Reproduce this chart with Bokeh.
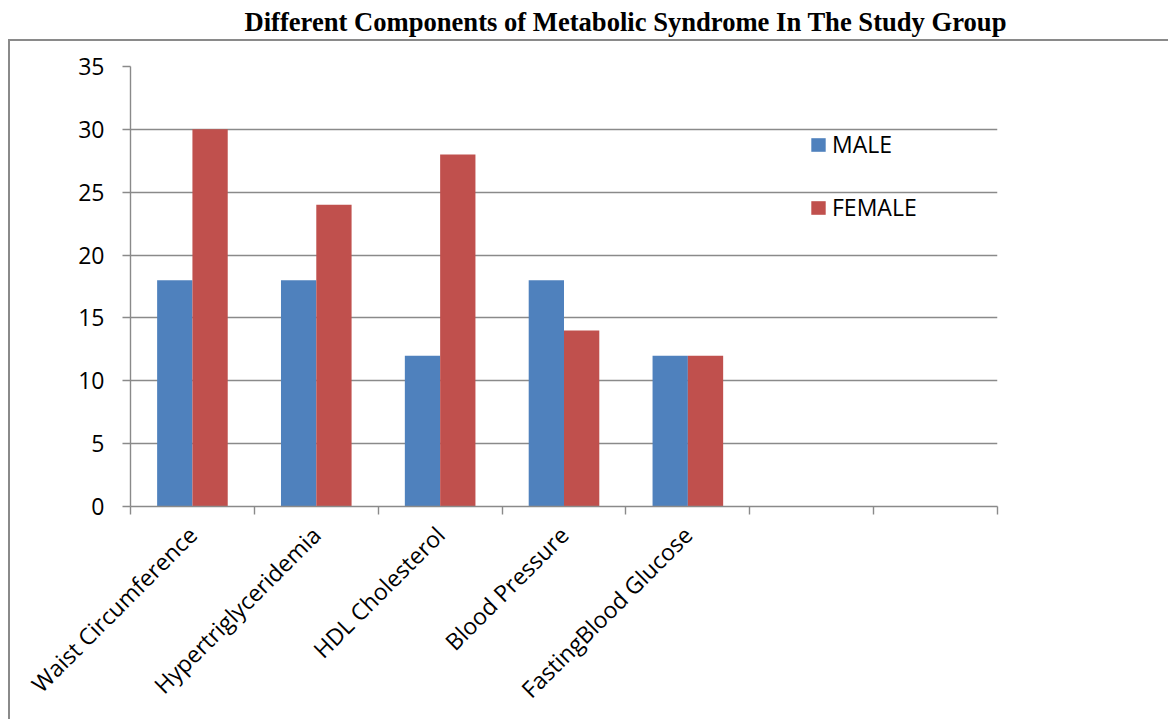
import math
from bokeh.plotting import figure
from bokeh.models import (Range1d, FixedTicker, Legend, LegendItem,
                          ColumnDataSource, Title)
from bokeh.transform import dodge
from bokeh.embed import file_html
from bokeh.resources import INLINE

# ---------------- data ----------------
title_text = "Different Components of Metabolic Syndrome In The Study Group"
categories = ["Waist Circumference", "Hypertriglyceridemia", "HDL Cholesterol",
              "Blood Pressure", "FastingBlood Glucose"]
male = [18, 18, 12, 18, 12]
female = [30, 24, 28, 14, 12]
series_names = ["MALE", "FEMALE"]
y_ticks = [0, 5, 10, 15, 20, 25, 30, 35]
n_slots = 7  # category slots on the axis (two are empty)

# ---------------- layout ----------------
W, H = 1168, 719
FL, FR, FT, FB = 130, 997, 66, 506
GRAY = "#8a8a8a"
SANS = "Open Sans"

p = figure(width=W, height=H, output_backend="svg", toolbar_location=None,
           x_range=Range1d(0, n_slots), y_range=Range1d(0, y_ticks[-1]),
           min_border_left=FL, min_border_right=W - FR,
           min_border_top=FT, min_border_bottom=H - FB)
p.outline_line_color = None
p.background_fill_color = None
p.border_fill_color = None
# outer chart border (top and left edges), drawn behind the transparent canvas
p.styles = {
    "background": (f"linear-gradient({GRAY},{GRAY}) 9px 39px / 100% 2px no-repeat, "
                   f"linear-gradient({GRAY},{GRAY}) 8px 39px / 2px 100% no-repeat, "
                   "#ffffff"),
}

# title
p.title.text = title_text
p.title.align = "left"
p.title.offset = 114
p.title.text_font = "Liberation Serif"
p.title.text_font_style = "bold"
p.title.text_font_size = "26.6px"
p.title.text_color = "black"
p.title.standoff = 0
# empty spacer between title and plot frame (pushes the title upward)
p.add_layout(Title(text=" ", text_font_size="20px", standoff=6), "above")

xs = [i + 0.5 for i in range(len(categories))]
src = ColumnDataSource(dict(x=xs, male=male, female=female))

bw = 0.285
r1 = p.vbar(x=dodge("x", -bw / 2, range=p.x_range), top="male", width=bw,
            source=src, fill_color="#4F81BD", line_color=None)
r2 = p.vbar(x=dodge("x", bw / 2, range=p.x_range), top="female", width=bw,
            source=src, fill_color="#C0504D", line_color=None)

# grid
p.xgrid.visible = False
p.ygrid.ticker = FixedTicker(ticks=y_ticks)
p.ygrid.grid_line_color = GRAY
p.ygrid.grid_line_width = 1.4

# y axis
ya = p.yaxis[0]
ya.ticker = FixedTicker(ticks=y_ticks)
ya.axis_line_color = GRAY
ya.axis_line_width = 1.4
ya.major_tick_line_color = GRAY
ya.major_tick_line_width = 1.4
ya.major_tick_out = 8
ya.major_tick_in = 0
ya.minor_tick_line_color = None
ya.major_label_text_font = SANS
ya.major_label_text_font_size = "23px"
ya.major_label_text_color = "black"
ya.major_label_standoff = 18

# x axis: labels at slot centres, tick marks at slot boundaries
xa = p.xaxis[0]
xa.ticker = FixedTicker(ticks=xs, minor_ticks=list(range(n_slots + 1)))
xa.major_label_overrides = {x: c for x, c in zip(xs, categories)}
xa.axis_line_color = GRAY
xa.axis_line_width = 1.4
xa.major_tick_out = 0
xa.major_tick_in = 0
xa.major_tick_line_color = None
xa.minor_tick_out = 8
xa.minor_tick_in = 0
xa.minor_tick_line_color = GRAY
xa.minor_tick_line_width = 1.4
xa.major_label_orientation = math.pi / 4
xa.major_label_text_font = SANS
xa.major_label_text_font_size = "23px"
xa.major_label_text_color = "black"
xa.major_label_standoff = 16

# legend
legend = Legend(items=[LegendItem(label=series_names[0], renderers=[r1]),
                       LegendItem(label=series_names[1], renderers=[r2])],
                location=(679, 283))
legend.border_line_color = None
legend.background_fill_alpha = 0
legend.padding = 0
legend.margin = 0
legend.spacing = 31
legend.glyph_width = 18
legend.glyph_height = 17
legend.label_height = 17
legend.label_standoff = 5
legend.label_text_font = SANS
legend.label_text_font_size = "23px"
legend.label_text_color = "black"
p.add_layout(legend)

open("out.html", "w").write(file_html(p, INLINE))
